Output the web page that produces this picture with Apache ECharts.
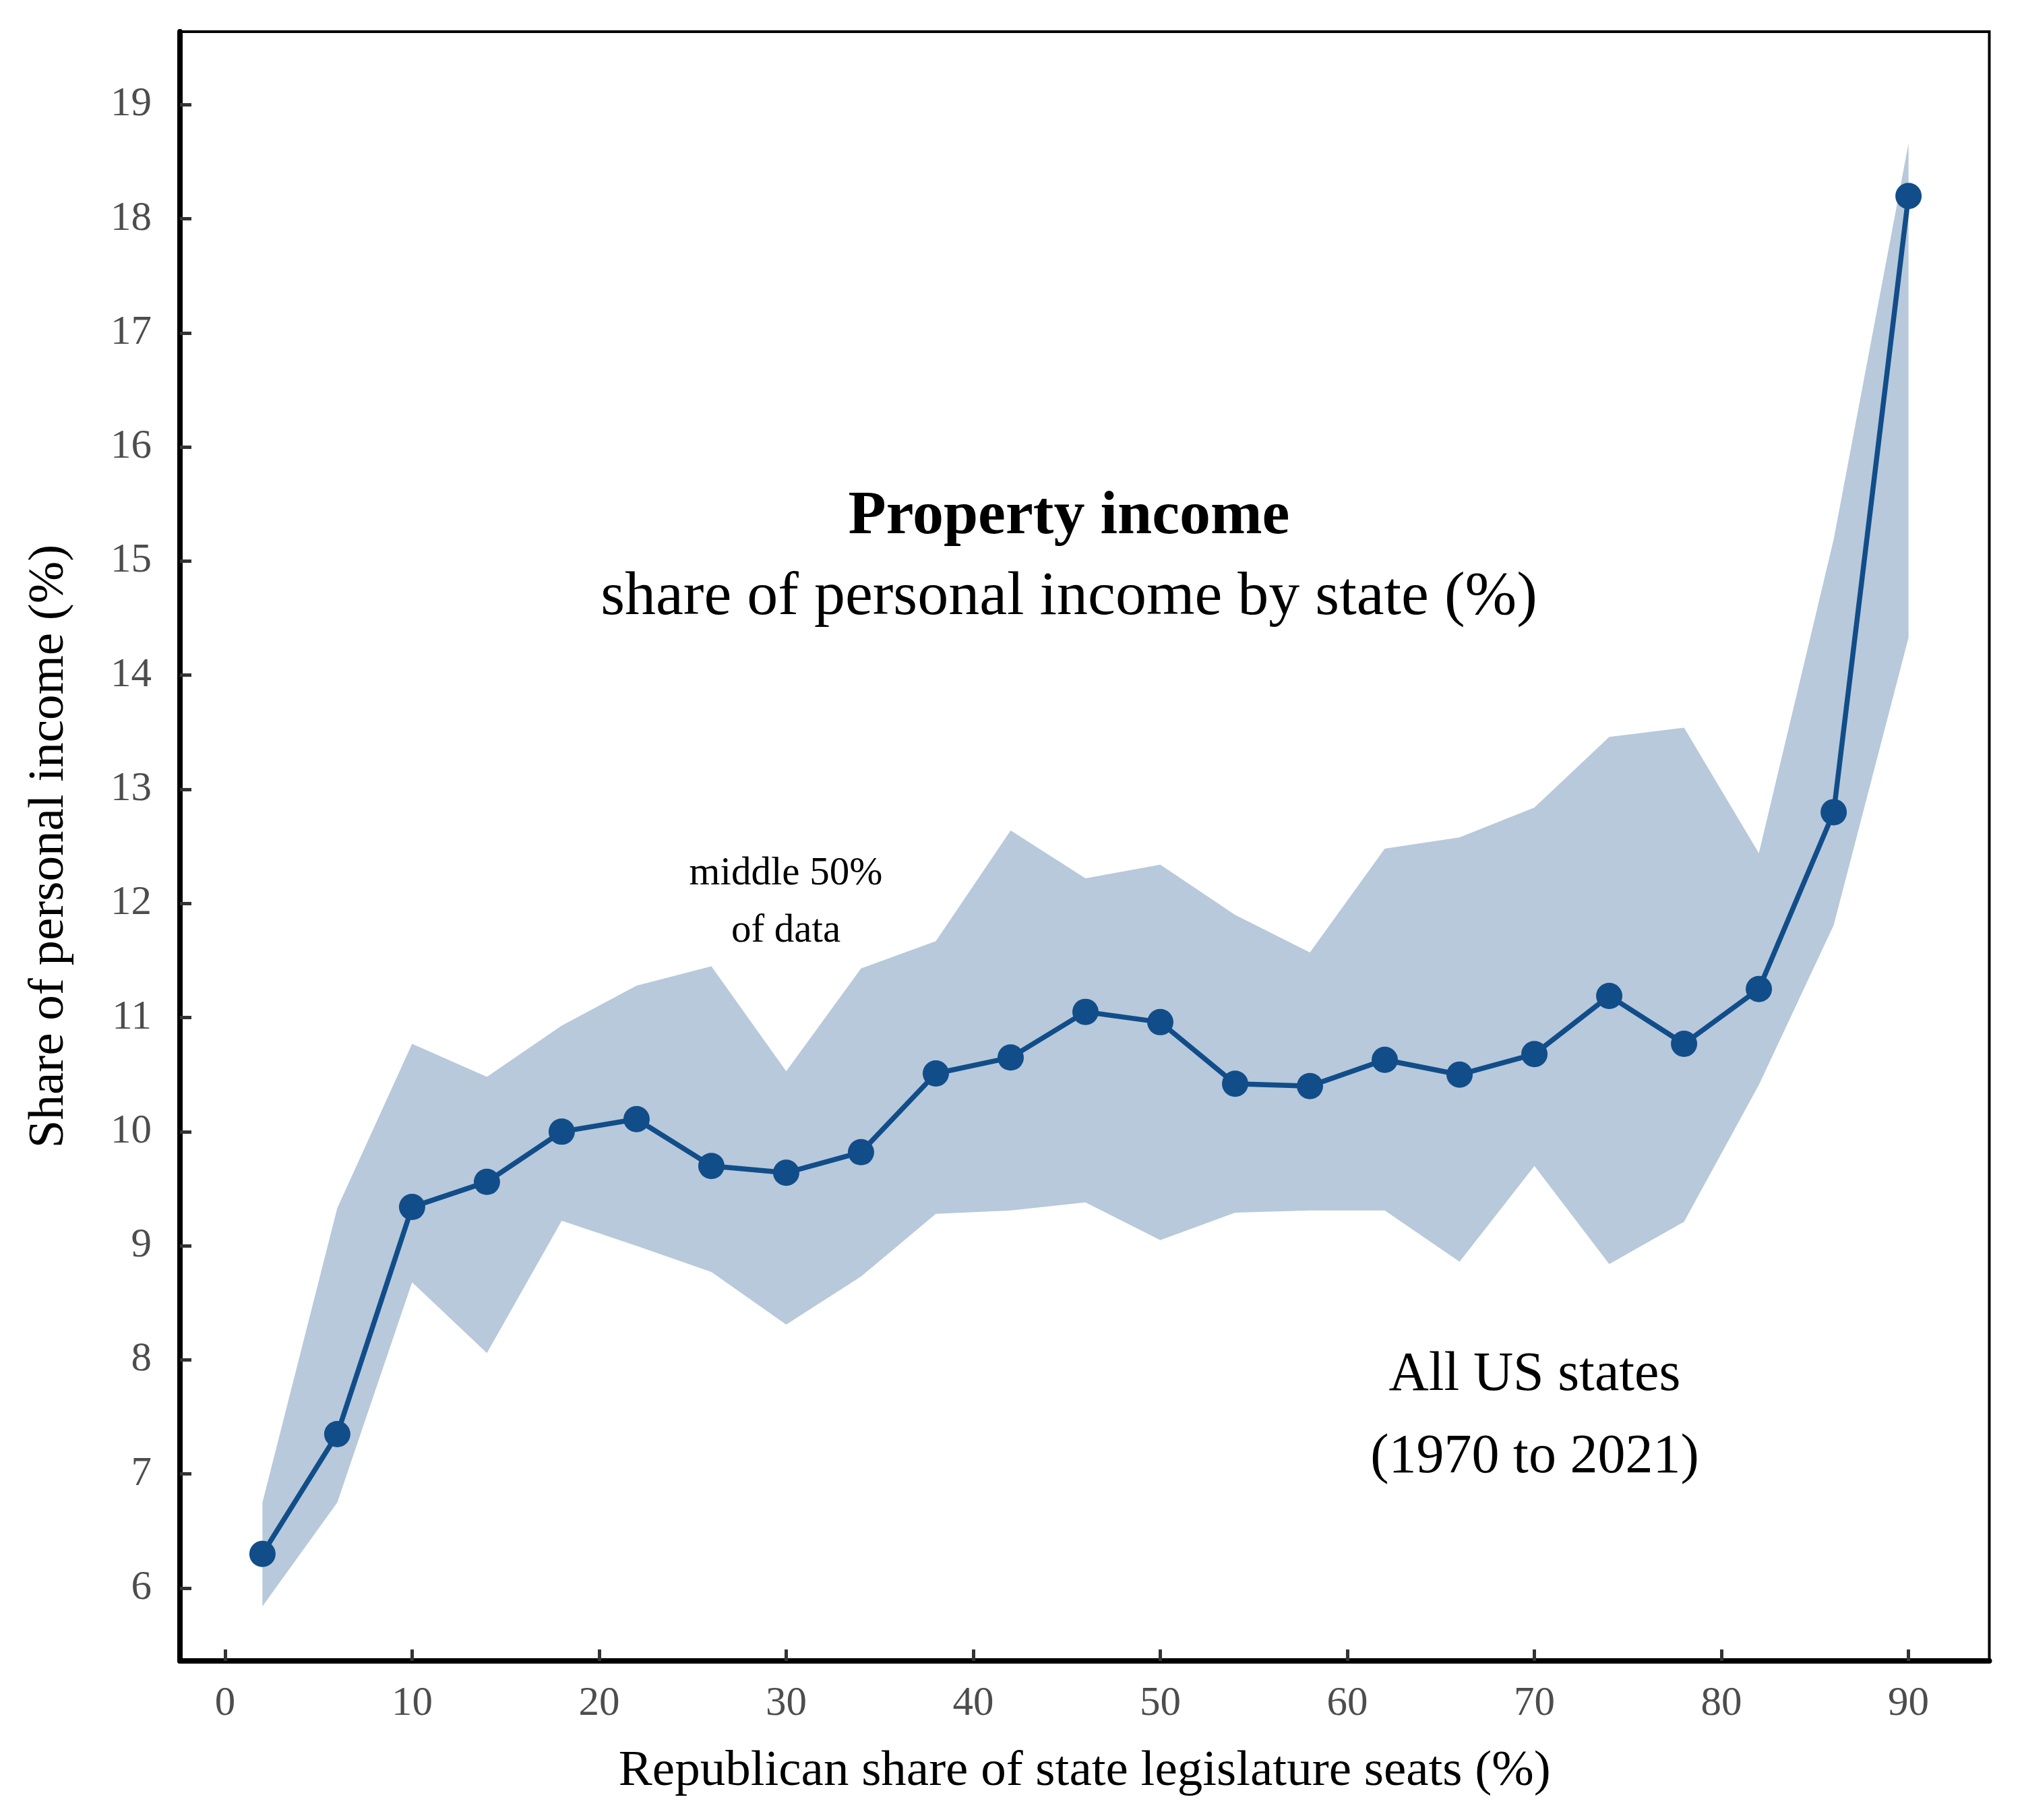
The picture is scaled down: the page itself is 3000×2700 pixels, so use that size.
<!DOCTYPE html>
<html>
<head>
<meta charset="utf-8">
<script src="https://cdn.jsdelivr.net/npm/echarts@6/dist/echarts.min.js"></script>
<style>
html,body{margin:0;padding:0;background:#fff;}
#chart{width:3000px;height:2700px;}
</style>
</head>
<body>
<div id="chart"></div>
<script>
// Republican share of state legislature seats (%) - bin centers
const seatShare = [2, 6, 10, 14, 18, 22, 26, 30, 34, 38, 42, 46, 50, 54, 58, 62, 66, 70, 74, 78, 82, 86, 90];
// median property income share (%)
const medianShare = [6.30, 7.35, 9.34, 9.56, 10.00, 10.11, 9.70, 9.64, 9.82, 10.51, 10.65, 11.05, 10.96, 10.42, 10.40, 10.63, 10.50, 10.68, 11.19, 10.77, 11.25, 12.80, 18.20];
// 75th percentile
const upperShare = [6.75, 9.33, 10.77, 10.48, 10.93, 11.28, 11.45, 10.53, 11.43, 11.67, 12.64, 12.22, 12.34, 11.90, 11.57, 12.48, 12.58, 12.84, 13.46, 13.54, 12.44, 15.19, 18.66];
// 25th percentile
const lowerShare = [5.84, 6.75, 8.68, 8.06, 9.22, 9.00, 8.77, 8.31, 8.73, 9.28, 9.31, 9.38, 9.05, 9.29, 9.31, 9.31, 8.86, 9.70, 8.84, 9.21, 10.41, 11.81, 14.33];
// tick labels
const xTicks = [0, 10, 20, 30, 40, 50, 60, 70, 80, 90];
const yTicks = [6, 7, 8, 9, 10, 11, 12, 13, 14, 15, 16, 17, 18, 19];

const FONT = '"Liberation Serif", "DejaVu Serif", serif';
const chart = echarts.init(document.getElementById('chart'), null, {renderer: 'canvas'});

const option = {
  backgroundColor: '#ffffff',
  animation: false,
  grid: {
    left: 267, right: 48.5, top: 47, bottom: 236,
    show: true, borderColor: '#000', borderWidth: 4, backgroundColor: 'transparent'
  },
  xAxis: {
    type: 'value',
    min: -2.41, max: 94.32,
    name: 'Republican share of state legislature seats (%)',
    nameLocation: 'middle',
    nameGap: 127,
    nameTextStyle: {fontFamily: FONT, fontSize: 75, color: '#000'},
    axisLine: {show: true, onZero: false, lineStyle: {color: '#000', width: 8}},
    axisTick: {show: true, inside: true, length: 17, lineStyle: {color: '#333', width: 5}, customValues: xTicks},
    axisLabel: {show: true, margin: 33, fontFamily: FONT, fontSize: 61, color: '#4d4d4d', customValues: xTicks},
    splitLine: {show: false}
  },
  yAxis: {
    type: 'value',
    min: 5.362, max: 19.64,
    name: 'Share of personal income (%)',
    nameLocation: 'middle',
    nameGap: 156,
    nameRotate: 90,
    nameTextStyle: {fontFamily: FONT, fontSize: 75, color: '#000'},
    axisLine: {show: true, onZero: false, lineStyle: {color: '#000', width: 8}},
    axisTick: {show: true, inside: true, length: 17, lineStyle: {color: '#333', width: 5}, customValues: yTicks},
    axisLabel: {show: true, margin: 42, fontFamily: FONT, fontSize: 61, color: '#4d4d4d', customValues: yTicks},
    splitLine: {show: false}
  },
  series: [
    {
      type: 'custom',
      silent: true,
      z: 1,
      data: [[seatShare[0], lowerShare[0]]],
      renderItem: function (params, api) {
        const pts = [];
        for (let i = 0; i < seatShare.length; i++) pts.push(api.coord([seatShare[i], upperShare[i]]));
        for (let i = seatShare.length - 1; i >= 0; i--) pts.push(api.coord([seatShare[i], lowerShare[i]]));
        return {type: 'polygon', shape: {points: pts}, style: {fill: '#b7c9db', stroke: null}};
      }
    },
    {
      type: 'line',
      z: 3,
      data: seatShare.map((x, i) => [x, medianShare[i]]),
      symbol: 'circle',
      symbolSize: 39,
      itemStyle: {color: '#114d89'},
      lineStyle: {color: '#114d89', width: 7.5},
      silent: true
    }
  ],
  graphic: [
    {type: 'text', x: 1586, y: 767, style: {text: 'Property income', fontFamily: FONT, fontWeight: 'bold', fontSize: 92, fill: '#000', align: 'center', verticalAlign: 'middle'}},
    {type: 'text', x: 1586, y: 887, style: {text: 'share of personal income by state (%)', fontFamily: FONT, fontSize: 92, fill: '#000', align: 'center', verticalAlign: 'middle'}},
    {type: 'text', x: 1166, y: 1296, style: {text: 'middle 50%', fontFamily: FONT, fontSize: 59, fill: '#000', align: 'center', verticalAlign: 'middle'}},
    {type: 'text', x: 1166, y: 1381, style: {text: 'of data', fontFamily: FONT, fontSize: 59, fill: '#000', align: 'center', verticalAlign: 'middle'}},
    {type: 'text', x: 1721, y: 1440, style: {text: 'median', fontFamily: FONT, fontSize: 59, fill: '#000', align: 'center', verticalAlign: 'middle'}},
    {type: 'text', x: 2277, y: 2040, style: {text: 'All US states', fontFamily: FONT, fontSize: 82, fill: '#000', align: 'center', verticalAlign: 'middle'}},
    {type: 'text', x: 2277, y: 2162, style: {text: '(1970 to 2021)', fontFamily: FONT, fontSize: 82, fill: '#000', align: 'center', verticalAlign: 'middle'}}
  ]
};
chart.setOption(option);
</script>
</body>
</html>
